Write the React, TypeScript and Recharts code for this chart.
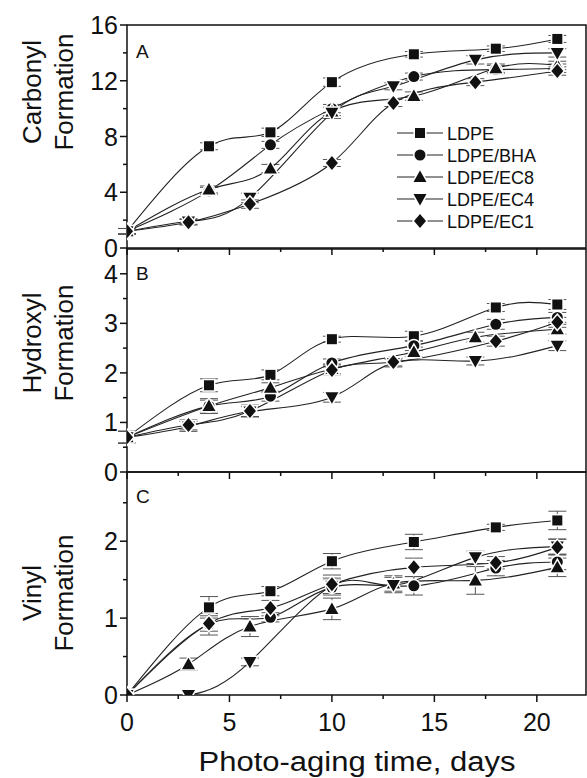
import React from "react";
import { LineChart, Line, XAxis, YAxis, ErrorBar, ReferenceArea } from "recharts";

// [day, value, error]
type Pt = [number, number, number];

const seriesNames = ["LDPE", "LDPE/BHA", "LDPE/EC8", "LDPE/EC4", "LDPE/EC1"];
const seriesShapes = ["square", "circle", "triangle", "triangleDown", "diamond"];

// A - carbonyl
const carbonylLDPE: Pt[] = [[0, 1.2, 0.2], [4, 7.3, 0.25], [7, 8.3, 0.3], [10, 11.9, 0.3], [14, 13.9, 0.2], [18, 14.3, 0.2], [21, 15.0, 0.25]];
const carbonylBHA: Pt[] = [[0, 1.2, 0.2], [4, 4.1, 0.25], [7, 7.4, 0.25], [10, 10.0, 0.3], [14, 12.3, 0.25], [18, 12.8, 0.3], [21, 12.9, 0.3]];
const carbonylEC8: Pt[] = [[0, 1.2, 0.2], [4, 4.2, 0.25], [7, 5.7, 0.3], [10, 9.8, 0.3], [14, 10.9, 0.3], [18, 12.9, 0.3], [21, 13.1, 0.3]];
const carbonylEC4: Pt[] = [[0, 1.2, 0.2], [3, 1.9, 0.2], [6, 3.6, 0.35], [10, 9.7, 0.4], [13, 11.6, 0.25], [17, 13.5, 0.3], [21, 14.0, 0.3]];
const carbonylEC1: Pt[] = [[0, 1.2, 0.2], [3, 1.85, 0.2], [6, 3.15, 0.3], [10, 6.1, 0.25], [13, 10.4, 0.25], [17, 11.9, 0.25], [21, 12.7, 0.3]];

// B - hydroxyl
const hydroxylLDPE: Pt[] = [[0, 0.7, 0.12], [4, 1.75, 0.13], [7, 1.96, 0.1], [10, 2.68, 0.06], [14, 2.74, 0.1], [18, 3.32, 0.08], [21, 3.38, 0.1]];
const hydroxylBHA: Pt[] = [[0, 0.7, 0.12], [4, 1.33, 0.12], [7, 1.53, 0.1], [10, 2.2, 0.08], [14, 2.55, 0.1], [18, 2.98, 0.1], [21, 3.12, 0.1]];
const hydroxylEC8: Pt[] = [[0, 0.7, 0.12], [4, 1.33, 0.15], [7, 1.7, 0.1], [10, 2.08, 0.1], [14, 2.42, 0.1], [17, 2.72, 0.1], [21, 2.88, 0.1]];
const hydroxylEC4: Pt[] = [[0, 0.7, 0.12], [3, 0.92, 0.1], [6, 1.22, 0.1], [10, 1.51, 0.1], [13, 2.2, 0.08], [17, 2.24, 0.08], [21, 2.55, 0.1]];
const hydroxylEC1: Pt[] = [[0, 0.7, 0.12], [3, 0.95, 0.1], [6, 1.23, 0.12], [10, 2.06, 0.1], [13, 2.22, 0.08], [18, 2.64, 0.1], [21, 3.02, 0.1]];

// C - vinyl
const vinylLDPE: Pt[] = [[0, 0, 0], [4, 1.14, 0.14], [7, 1.35, 0.06], [10, 1.74, 0.1], [14, 1.99, 0.1], [18, 2.18, 0.04], [21, 2.27, 0.12]];
const vinylBHA: Pt[] = [[0, 0, 0], [4, 0.92, 0.14], [7, 1.01, 0.06], [10, 1.4, 0.1], [14, 1.42, 0.12], [18, 1.65, 0.1], [21, 1.73, 0.1]];
const vinylEC8: Pt[] = [[0, 0, 0], [3, 0.4, 0.08], [6, 0.89, 0.13], [10, 1.12, 0.14], [13, 1.45, 0.1], [17, 1.49, 0.18], [21, 1.66, 0.12]];
const vinylEC4: Pt[] = [[0, 0, 0], [3, 0, 0], [6, 0.43, 0.05], [10, 1.42, 0.1], [13, 1.43, 0.1], [17, 1.79, 0.08], [21, 1.93, 0.1]];
const vinylEC1: Pt[] = [[0, 0, 0], [4, 0.93, 0.1], [7, 1.13, 0.1], [10, 1.44, 0.12], [14, 1.66, 0.12], [18, 1.72, 0.08], [21, 1.92, 0.1]];

const xTicks = [0, 2.5, 5, 7.5, 10, 12.5, 15, 17.5, 20];
const xLabels = [0, 5, 10, 15, 20];
const carbonylTicks = [0, 2, 4, 6, 8, 10, 12, 14, 16];
const carbonylLabels = [0, 4, 8, 12, 16];
const hydroxylTicks = [0, 0.5, 1, 1.5, 2, 2.5, 3, 3.5, 4];
const hydroxylLabels = [0, 1, 2, 3, 4];
const vinylTicks = [0, 0.5, 1, 1.5, 2, 2.5];
const vinylLabels = [0, 1, 2];

const FONT = "'Liberation Sans', Arial, sans-serif";
const W = 587;
const H = 778;
const X_MAX = 22.4;

const toPoints = (arr: Pt[]) => arr.map(([x, y, err]) => ({ x, y, err }));

function marker(shape: string, cx: number, cy: number, key?: string) {
  const p = { key, fill: "#111", stroke: "#fff", strokeWidth: 3, style: { paintOrder: "stroke" as any } };
  switch (shape) {
    case "square":
      return <rect {...p} x={cx - 5} y={cy - 5} width={10} height={10} />;
    case "circle":
      return <circle {...p} cx={cx} cy={cy} r={5.5} />;
    case "triangle":
      return <path {...p} d={`M${cx},${cy - 6.5}L${cx + 6.5},${cy + 5}L${cx - 6.5},${cy + 5}Z`} />;
    case "triangleDown":
      return <path {...p} d={`M${cx},${cy + 6.5}L${cx + 6.5},${cy - 5}L${cx - 6.5},${cy - 5}Z`} />;
    default:
      return <path {...p} d={`M${cx},${cy - 7}L${cx + 6},${cy}L${cx},${cy + 7}L${cx - 6},${cy}Z`} />;
  }
}

function XTick(props: any) {
  const { x, y, payload, showLabels } = props;
  const major = xLabels.includes(payload.value);
  return (
    <g>
      <line x1={x} y1={y} x2={x} y2={y + (major ? 7 : 4)} stroke="#111" strokeWidth={1.5} />
      {showLabels && major && (
        <text x={x} y={y + 36} textAnchor="middle" fontSize={25} fontFamily={FONT} fill="#111">
          {payload.value}
        </text>
      )}
    </g>
  );
}

function YTick(props: any) {
  const { x, y, payload, labels } = props;
  const major = labels.includes(payload.value);
  return (
    <g>
      <line x1={x} y1={y} x2={x - (major ? 7 : 4)} y2={y} stroke="#111" strokeWidth={1.5} />
      {major && (
        <text x={x - 9} y={y + 9} textAnchor="end" fontSize={25} fontFamily={FONT} fill="#111">
          {payload.value}
        </text>
      )}
    </g>
  );
}

interface PanelProps {
  series: Pt[][];
  yMax: number;
  yTicks: number[];
  yLabels: number[];
  top: number;
  bottom: number;
  showXLabels?: boolean;
}

function Panel({ series, yMax, yTicks, yLabels, top, bottom, showXLabels }: PanelProps) {
  return (
    <div style={{ position: "absolute", left: 0, top: 0 }}>
      <LineChart width={W} height={H} margin={{ top, right: 1, bottom: H - bottom - 30, left: 87 }}>
        <XAxis
          type="number"
          dataKey="x"
          domain={[0, X_MAX]}
          ticks={xTicks}
          interval={0}
          tickSize={0}
          tickMargin={0}
          axisLine={false}
          height={30}
          allowDataOverflow
          tick={<XTick showLabels={showXLabels} />}
        />
        <YAxis
          type="number"
          dataKey="y"
          domain={[0, yMax]}
          ticks={yTicks}
          interval={0}
          tickSize={0}
          tickMargin={0}
          axisLine={false}
          width={40}
          allowDataOverflow
          tick={<YTick labels={yLabels} />}
        />
        <ReferenceArea x1={0} x2={X_MAX} y1={0} y2={yMax} fill="none" stroke="#111" strokeWidth={1.5} />
        {series.map((s, i) => (
          <Line
            key={seriesNames[i]}
            name={seriesNames[i]}
            data={toPoints(s)}
            dataKey="y"
            type="natural"
            stroke="#222"
            strokeWidth={1.1}
            isAnimationActive={false}
            activeDot={false}
            dot={(p: any) => marker(seriesShapes[i], p.cx, p.cy, `${seriesNames[i]}-${p.index}`)}
          >
            <ErrorBar dataKey="err" direction="y" width={9} stroke="#555" strokeWidth={1} />
          </Line>
        ))}
      </LineChart>
    </div>
  );
}

function YTitle({ x1, x2, y, first }: { x1: number; x2: number; y: number; first: string }) {
  return (
    <>
      <text x={x1} y={y} transform={`rotate(-90 ${x1} ${y})`} textAnchor="middle" dominantBaseline="central" fontSize={26}>
        {first}
      </text>
      <text x={x2} y={y} transform={`rotate(-90 ${x2} ${y})`} textAnchor="middle" dominantBaseline="central" fontSize={26}>
        Formation
      </text>
    </>
  );
}

export default function App() {
  const legendTop = 133;
  return (
    <div style={{ position: "absolute", left: 0, top: 0, width: W, height: H, background: "#fff", overflow: "hidden", fontFamily: FONT }}>
      <Panel series={[carbonylLDPE, carbonylBHA, carbonylEC8, carbonylEC4, carbonylEC1]} yMax={16} yTicks={carbonylTicks} yLabels={carbonylLabels} top={25} bottom={248} />
      <Panel series={[hydroxylLDPE, hydroxylBHA, hydroxylEC8, hydroxylEC4, hydroxylEC1]} yMax={4.5} yTicks={hydroxylTicks} yLabels={hydroxylLabels} top={249} bottom={472} />
      <Panel series={[vinylLDPE, vinylBHA, vinylEC8, vinylEC4, vinylEC1]} yMax={2.9} yTicks={vinylTicks} yLabels={vinylLabels} top={472} bottom={695} showXLabels />
      <svg width={W} height={H} style={{ position: "absolute", left: 0, top: 0, pointerEvents: "none" }} fontFamily={FONT} fill="#111">
        <YTitle x1={32} x2={64} y={92} first="Carbonyl" />
        <YTitle x1={32} x2={64} y={343} first="Hydroxyl" />
        <YTitle x1={32} x2={64} y={593} first="Vinyl" />
        <text x={136} y={58} fontSize={19}>A</text>
        <text x={136} y={280} fontSize={19}>B</text>
        <text x={136} y={503} fontSize={19}>C</text>
        <text x={357} y={771} textAnchor="middle" fontSize={27} textLength={317} lengthAdjust="spacingAndGlyphs">
          Photo-aging time, days
        </text>
        {seriesNames.map((name, i) => {
          const y = legendTop + i * 22;
          return (
            <g key={name}>
              <line x1={397} y1={y} x2={443} y2={y} stroke="#222" strokeWidth={1.1} />
              {marker(seriesShapes[i], 420, y)}
              <text x={447} y={y + 6.5} fontSize={18}>{name}</text>
            </g>
          );
        })}
      </svg>
    </div>
  );
}
